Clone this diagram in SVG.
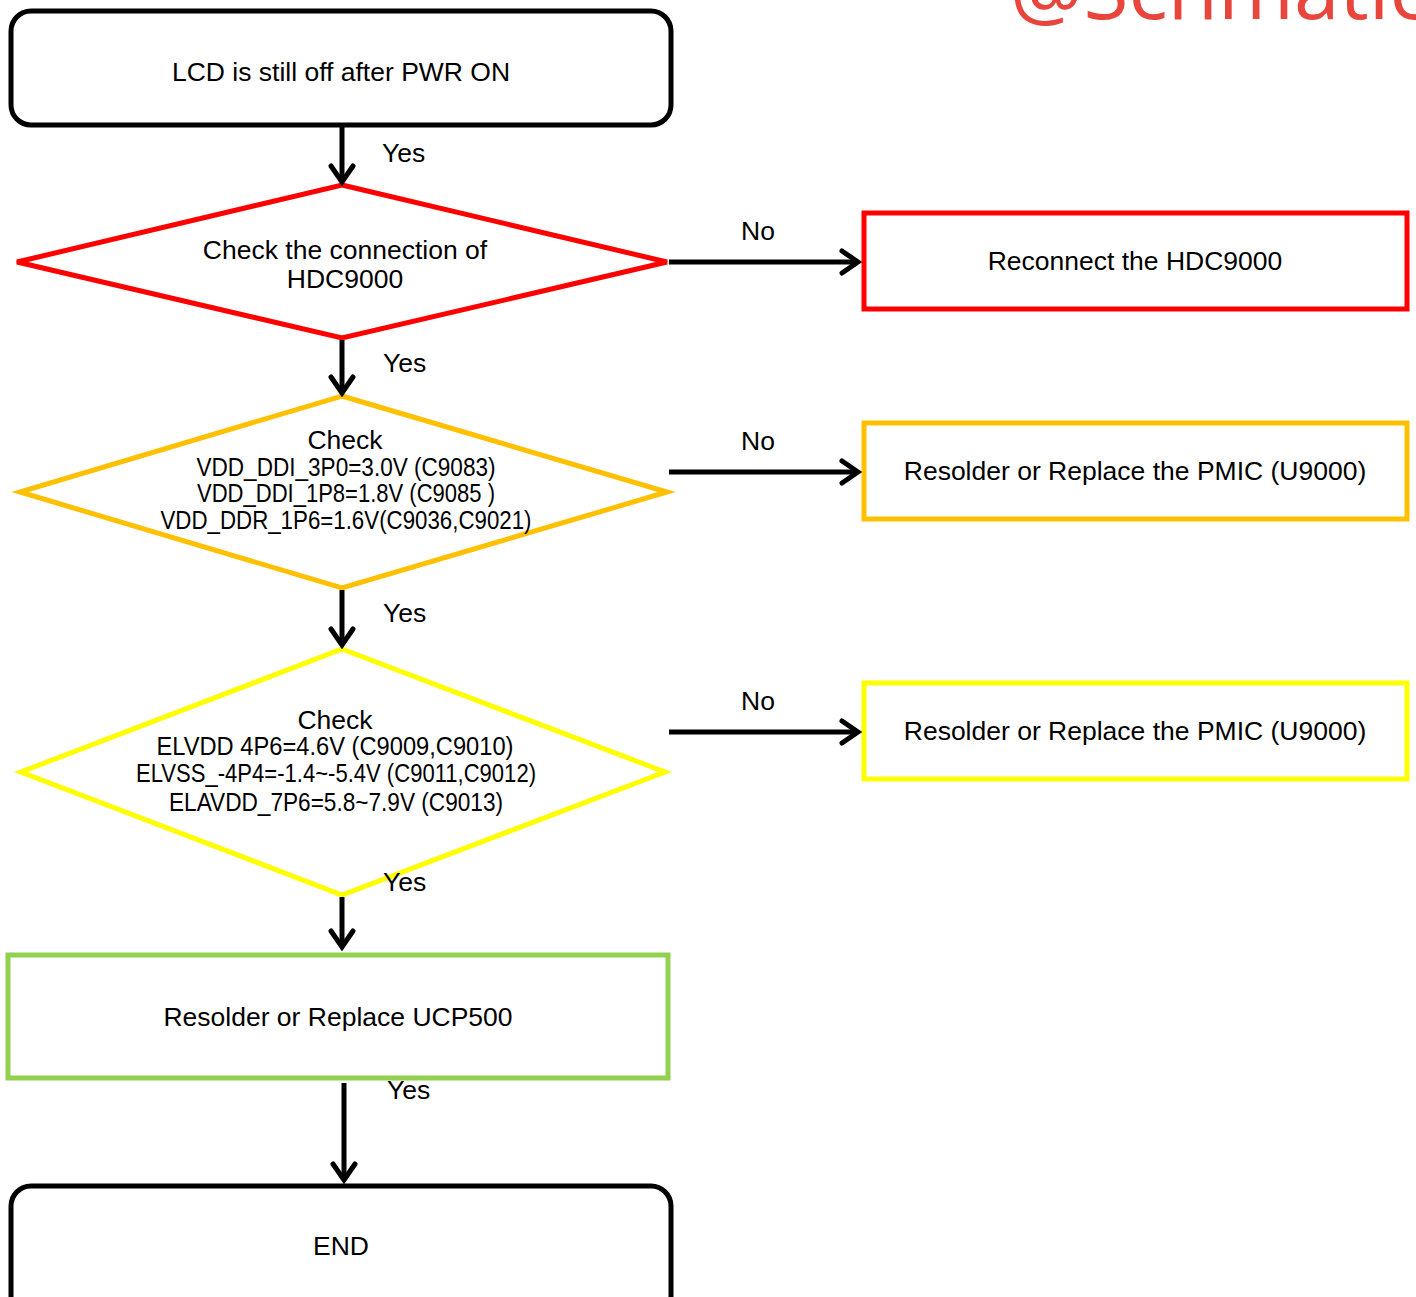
<svg xmlns="http://www.w3.org/2000/svg" width="1416" height="1297" viewBox="0 0 1416 1297">
<style>
text{font-family:"Liberation Sans",Arial,sans-serif;font-size:26.5px;fill:#000}
.c{text-anchor:middle}
.n{fill:#fff;stroke-width:5}
.cn{stroke:#000;stroke-width:5;fill:none}
.wm{font-family:"Open Sans","Noto Sans",sans-serif;font-size:82px;fill:#e8453c}
</style>
<defs>
<marker id="ah" markerUnits="userSpaceOnUse" viewBox="-20 -14 24 28" refX="0" refY="0" markerWidth="24" markerHeight="28" orient="auto">
<path d="M-16,-11 L0,0 L-16,11" fill="none" stroke="#000" stroke-width="5" stroke-linecap="round" stroke-linejoin="miter"/>
</marker>
</defs>
<rect width="1416" height="1297" fill="#fff"/>
<text class="wm" x="1010" y="19">@Schmatic</text>

<g id="start">
<rect class="n" x="11" y="11" width="660" height="114" rx="20" stroke="#000" stroke-width="5"/>
<text class="c" x="341" y="81">LCD is still off after PWR ON</text>
</g>

<g id="d1">
<polygon class="n" points="342,185 667,262 342,338 17,262" stroke="#ff0000"/>
<text class="c" x="345" y="259">Check the connection of</text>
<text class="c" x="345" y="288">HDC9000</text>
</g>

<g id="r1">
<rect class="n" x="864" y="213" width="543" height="96" stroke="#ff0000"/>
<text class="c" x="1135" y="270">Reconnect the HDC9000</text>
</g>

<g id="d2">
<polygon class="n" points="342,396 667,492 342,588 20,492" stroke="#ffc000"/>
<text class="c" x="345" y="449">Check</text>
<text class="c" x="346" y="476" textLength="299" lengthAdjust="spacingAndGlyphs">VDD_DDI_3P0=3.0V (C9083)</text>
<text class="c" x="346" y="502" textLength="298" lengthAdjust="spacingAndGlyphs">VDD_DDI_1P8=1.8V (C9085 )</text>
<text class="c" x="346" y="529" textLength="371" lengthAdjust="spacingAndGlyphs">VDD_DDR_1P6=1.6V(C9036,C9021)</text>
</g>

<g id="r2">
<rect class="n" x="864" y="423" width="543" height="96" stroke="#ffc000"/>
<text class="c" x="1135" y="480">Resolder or Replace the PMIC (U9000)</text>
</g>

<g id="d3">
<polygon class="n" points="342,649 665,772 342,895 21,772" stroke="#ffff00"/>
<text class="c" x="335" y="729">Check</text>
<text class="c" x="335" y="755" textLength="357" lengthAdjust="spacingAndGlyphs">ELVDD 4P6=4.6V (C9009,C9010)</text>
<text class="c" x="336" y="782" textLength="400" lengthAdjust="spacingAndGlyphs">ELVSS_-4P4=-1.4~-5.4V (C9011,C9012)</text>
<text class="c" x="336" y="811" textLength="334" lengthAdjust="spacingAndGlyphs">ELAVDD_7P6=5.8~7.9V (C9013)</text>
</g>

<g id="r3">
<rect class="n" x="864" y="683" width="543" height="96" stroke="#ffff00"/>
<text class="c" x="1135" y="740">Resolder or Replace the PMIC (U9000)</text>
</g>

<g id="g1">
<rect class="n" x="8" y="955" width="660" height="123" stroke="#92d050"/>
<text class="c" x="338" y="1026">Resolder or Replace UCP500</text>
</g>

<g id="end">
<rect class="n" x="11" y="1186" width="660" height="130" rx="20" stroke="#000" stroke-width="5"/>
<text class="c" x="341" y="1255">END</text>
</g>

<g id="connectors">
<line class="cn" x1="342" y1="126" x2="342" y2="182" marker-end="url(#ah)"/>
<line class="cn" x1="342" y1="340" x2="342" y2="393" marker-end="url(#ah)"/>
<line class="cn" x1="342" y1="590" x2="342" y2="645" marker-end="url(#ah)"/>
<line class="cn" x1="342" y1="897" x2="342" y2="947" marker-end="url(#ah)"/>
<line class="cn" x1="344" y1="1083" x2="344" y2="1180" marker-end="url(#ah)"/>
<line class="cn" x1="669" y1="262" x2="858" y2="262" marker-end="url(#ah)"/>
<line class="cn" x1="669" y1="472" x2="858" y2="472" marker-end="url(#ah)"/>
<line class="cn" x1="669" y1="732" x2="858" y2="732" marker-end="url(#ah)"/>
<text x="382" y="162">Yes</text>
<text x="383" y="372">Yes</text>
<text x="383" y="622">Yes</text>
<text x="383" y="891">Yes</text>
<text x="387" y="1099">Yes</text>
<text x="741" y="240">No</text>
<text x="741" y="450">No</text>
<text x="741" y="710">No</text>
</g>
</svg>
